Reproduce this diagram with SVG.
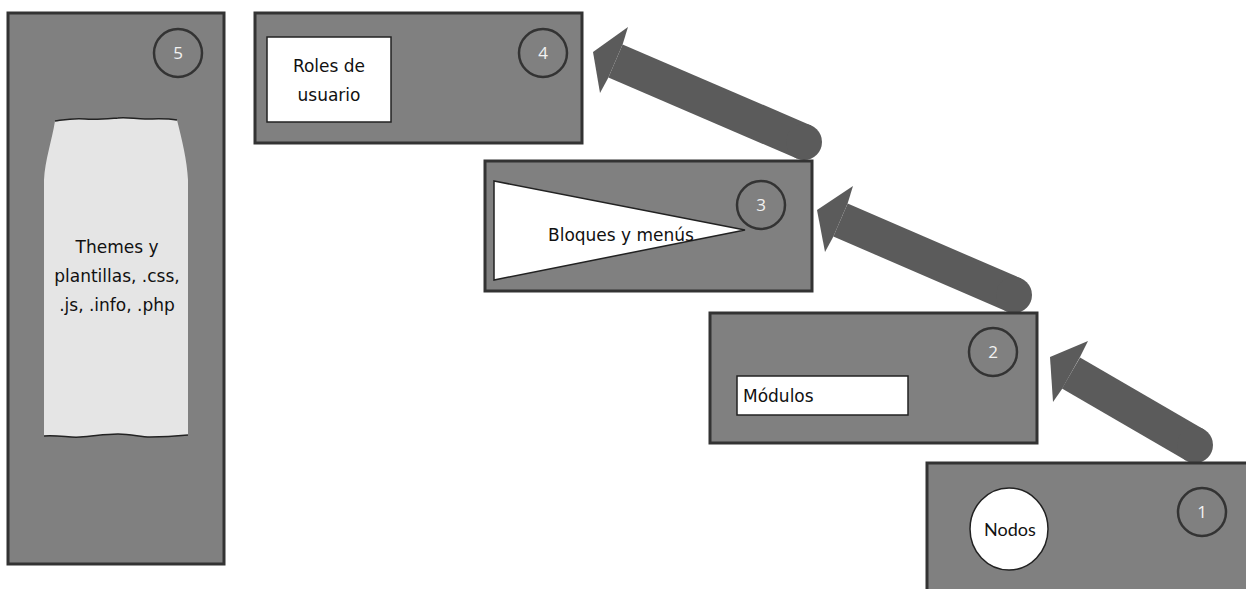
<svg xmlns="http://www.w3.org/2000/svg" width="1246" height="589" viewBox="0 0 1246 589">
  <style>
    .panel { fill: #808080; stroke: #333333; stroke-width: 3; }
    .badge { fill: none; stroke: #333333; stroke-width: 2.5; }
    .num { font-family: "Open Sans", "Liberation Sans", sans-serif; font-size: 17px; fill: #f2f2f2; text-anchor: middle; }
    .card { fill: #ffffff; stroke: #222222; stroke-width: 1.5; }
    .lbl { font-family: "DejaVu Sans", "Liberation Sans", sans-serif; font-size: 17px; fill: #111111; }
    .shaft { fill: none; stroke: #5b5b5b; stroke-width: 36; stroke-linecap: butt; }
    .head { fill: #5b5b5b; }
  </style>

  <!-- thick sketch arrows climbing from step to step -->
  <g id="connectors">
    <g id="arrow-1-2">
      <line class="shaft" x1="1071" y1="373" x2="1195" y2="445"/>
      <circle class="head" cx="1195" cy="445" r="18"/>
      <polygon class="head" points="1088,341 1050,357 1053,402 1062,389 1080,357"/>
    </g>
    <g id="arrow-2-3">
      <line class="shaft" x1="840.5" y1="220" x2="1014" y2="295"/>
      <circle class="head" cx="1014" cy="295" r="18"/>
      <polygon class="head" points="853,186 817,210 825,252 833.4,236.5 847.6,203.5"/>
    </g>
    <g id="arrow-3-4">
      <line class="shaft" x1="615.5" y1="61" x2="804" y2="142"/>
      <circle class="head" cx="804" cy="142" r="18"/>
      <polygon class="head" points="628,27 593,52 600,93 608.4,77.5 622.6,44.5"/>
    </g>
  </g>

  <!-- step 5: themes -->
  <g id="node-5">
    <rect class="panel" x="8" y="13" width="216" height="551"/>
    <circle class="badge" cx="178" cy="53" r="24"/>
    <text class="num" x="178" y="59">5</text>
    <path d="M55,121 C52,140 45,160 44,180 L44,436 C60,435 70,438 80,437 C95,436 105,434 118,434 C132,434 140,437 150,437 C165,437 178,436 188,435 L188,180 C187,160 182,140 177,120 C165,118 155,119 145,119 C135,119 128,117 118,118 C105,119 95,120 85,119 C72,118 63,120 55,121 Z" fill="#e5e5e5"/>
    <path d="M55,121 C63,120 72,118 85,119 C95,120 105,119 118,118 C128,117 135,119 145,119 C155,119 165,118 177,120" fill="none" stroke="#222222" stroke-width="1.5"/>
    <path d="M44,436 C60,435 70,438 80,437 C95,436 105,434 118,434 C132,434 140,437 150,437 C165,437 178,436 188,435" fill="none" stroke="#222222" stroke-width="1.5"/>
    <text class="lbl" text-anchor="middle" x="117" y="253">Themes y</text>
    <text class="lbl" text-anchor="middle" x="117" y="282">plantillas, .css,</text>
    <text class="lbl" text-anchor="middle" x="117" y="311">.js, .info, .php</text>
  </g>

  <!-- step 4: user roles -->
  <g id="node-4">
    <rect class="panel" x="255" y="13" width="327" height="130"/>
    <circle class="badge" cx="543" cy="53" r="24"/>
    <text class="num" x="543" y="59">4</text>
    <rect class="card" x="267" y="37" width="124" height="85"/>
    <text class="lbl" text-anchor="middle" x="329" y="72">Roles de</text>
    <text class="lbl" text-anchor="middle" x="329" y="101">usuario</text>
  </g>

  <!-- step 3: blocks and menus -->
  <g id="node-3">
    <rect class="panel" x="485" y="161" width="327" height="130"/>
    <circle class="badge" cx="761" cy="205" r="24"/>
    <text class="num" x="761" y="211">3</text>
    <polygon class="card" points="494,181 745,230 494,280"/>
    <text class="lbl" text-anchor="middle" x="621" y="241">Bloques y menús</text>
  </g>

  <!-- step 2: modules -->
  <g id="node-2">
    <rect class="panel" x="710" y="313" width="327" height="130"/>
    <circle class="badge" cx="993" cy="352" r="24"/>
    <text class="num" x="993" y="358">2</text>
    <rect class="card" x="737" y="376" width="171" height="39"/>
    <text class="lbl" x="743" y="402">Módulos</text>
  </g>

  <!-- step 1: nodes -->
  <g id="node-1">
    <rect class="panel" x="927" y="463" width="330" height="140"/>
    <circle class="badge" cx="1202" cy="512" r="24"/>
    <text class="num" x="1202" y="518">1</text>
    <ellipse class="card" cx="1009" cy="529" rx="39" ry="41"/>
    <text class="lbl" text-anchor="middle" x="1010" y="536" style="font-family: Lato, 'Liberation Sans', sans-serif; font-size: 18px;">Nodos</text>
  </g>
</svg>
